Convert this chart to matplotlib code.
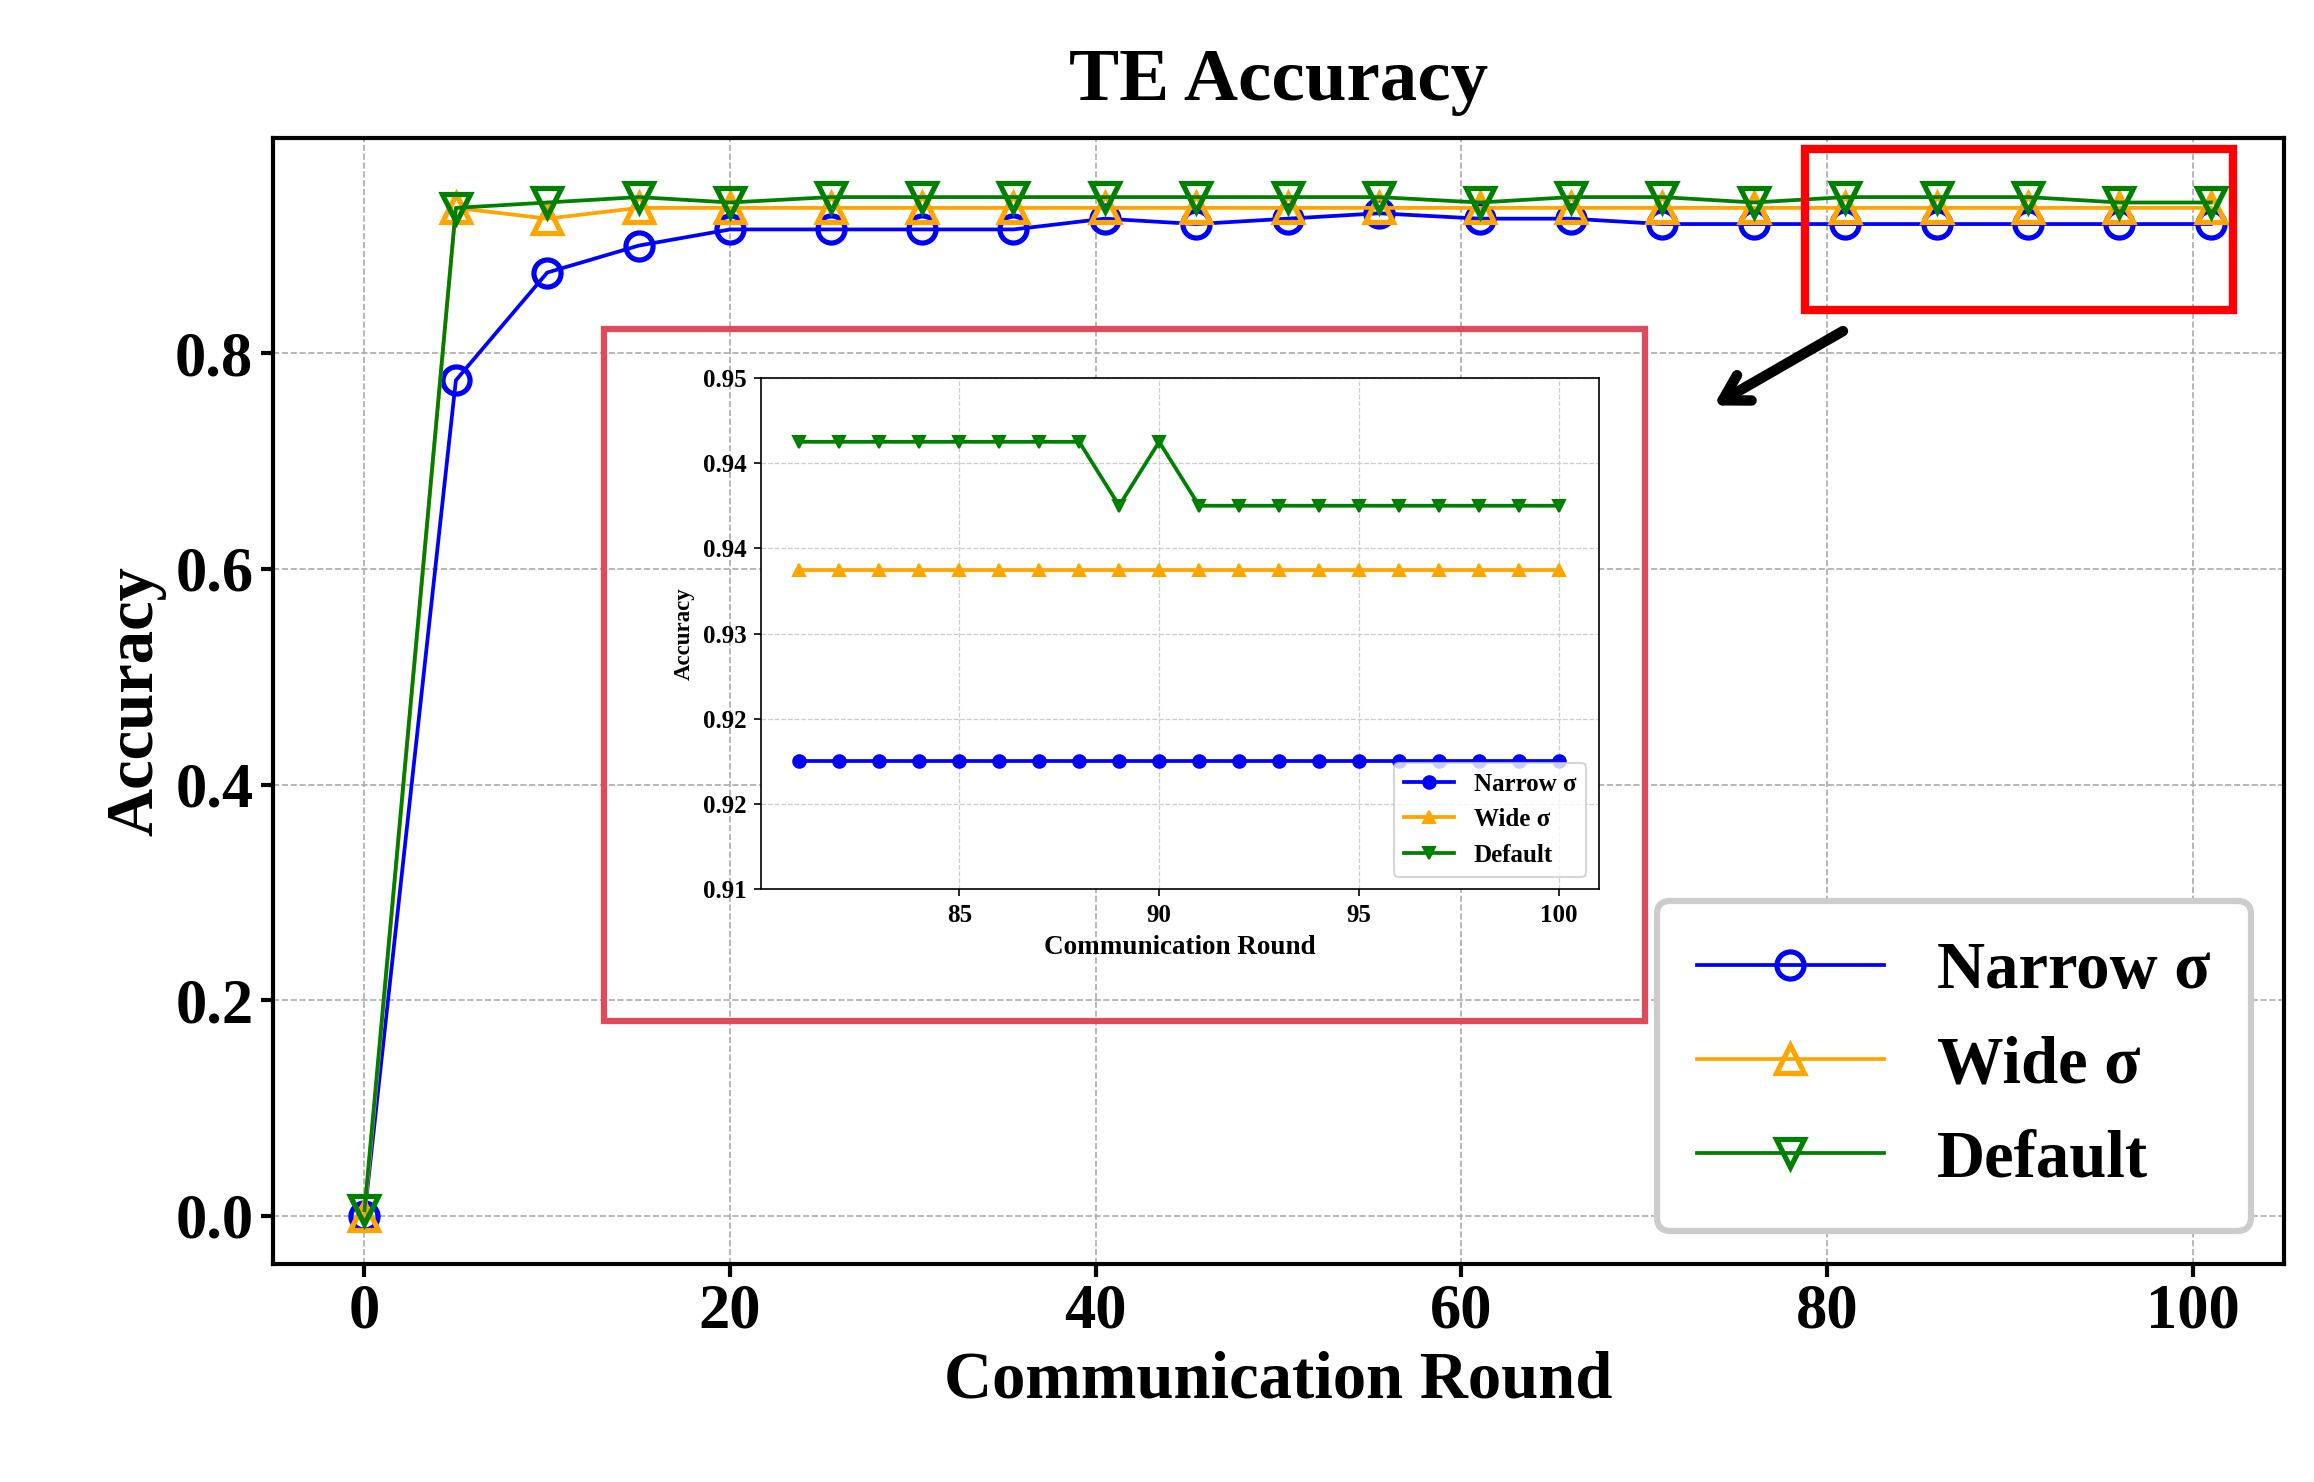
import matplotlib.pyplot as plt
from matplotlib.patches import Rectangle, FancyArrowPatch
from matplotlib.ticker import FormatStrFormatter

plt.rcParams['font.family'] = ['Liberation Serif', 'DejaVu Serif']
plt.rcParams['font.weight'] = 'bold'
plt.rcParams['axes.labelweight'] = 'bold'

# main chart data
rounds = [0, 5, 10, 15, 20, 25.5, 30.5, 35.5, 40.5, 45.5, 50.5, 55.5, 61, 66, 71, 76, 81, 86, 91, 96, 101]
narrow = [0.0, 0.775, 0.875, 0.90, 0.915, 0.915, 0.915, 0.915, 0.925, 0.92, 0.925, 0.93, 0.925, 0.925,
          0.92, 0.92, 0.92, 0.92, 0.92, 0.92, 0.92]
wide = [0.0, 0.935, 0.925, 0.935, 0.935, 0.935, 0.935, 0.935, 0.935, 0.935, 0.935, 0.935, 0.935, 0.935,
        0.935, 0.935, 0.935, 0.935, 0.935, 0.935, 0.935]
default = [0.005, 0.935, 0.94, 0.945, 0.94, 0.945, 0.945, 0.945, 0.945, 0.945, 0.945, 0.945, 0.94, 0.945,
           0.945, 0.94, 0.945, 0.945, 0.945, 0.94, 0.94]

# zoomed data (rounds 81-100)
zoom_rounds = list(range(81, 101))
zoom_narrow = [0.920] * 20
zoom_wide = [0.935] * 20
zoom_default = [0.945] * 8 + [0.940, 0.945] + [0.940] * 10

fig = plt.figure(figsize=(2314 / 150, 1482 / 150), dpi=150)
ax = fig.add_axes([0.118, 0.147, 0.869, 0.76])
ax.plot(rounds, narrow, color='blue', marker='o', ms=13, mfc='none', mew=2.5, lw=1.8, label='Narrow σ')
ax.plot(rounds, wide, color='orange', marker='^', ms=13, mfc='none', mew=2.5, lw=1.8, label='Wide σ')
ax.plot(rounds, default, color='green', marker='v', ms=13, mfc='none', mew=2.5, lw=1.8, label='Default')
ax.set_xlim(-5, 105)
ax.set_ylim(-0.045, 1.0)
ax.set_yticks([0.0, 0.2, 0.4, 0.6, 0.8])
ax.grid(True, linestyle='--', color='#aaaaaa', lw=0.8)
ax.tick_params(labelsize=30, width=2, length=6)
for s in ax.spines.values():
    s.set_linewidth(2)
ax.set_xlabel('Communication Round', fontsize=32)
ax.set_ylabel('Accuracy', fontsize=32)
ax.set_title('TE Accuracy', fontsize=36, fontweight='bold', pad=18)
leg = ax.legend(loc='lower right', fontsize=32, handlelength=2.8, borderpad=0.6, labelspacing=0.5,
                framealpha=1, edgecolor='#cccccc', fancybox=True)
leg.get_frame().set_linewidth(3)
ax.add_patch(Rectangle((78.8, 0.84), 23.4, 0.15, fill=False, edgecolor='red', lw=4, zorder=5))

# inset frame and arrow
fig.add_artist(Rectangle((0.261, 0.311), 0.450, 0.467, transform=fig.transFigure, fill=False,
                         edgecolor='#e04a5a', lw=3))
fig.add_artist(FancyArrowPatch((0.798, 0.778), (0.739, 0.725), transform=fig.transFigure,
                               arrowstyle='->,head_length=12,head_width=7', color='black', lw=5))

ins = fig.add_axes([0.329, 0.40, 0.362, 0.345])
ins.plot(zoom_rounds, zoom_narrow, color='blue', marker='o', ms=6, lw=1.8, label='Narrow σ')
ins.plot(zoom_rounds, zoom_wide, color='orange', marker='^', ms=6, lw=1.8, label='Wide σ')
ins.plot(zoom_rounds, zoom_default, color='green', marker='v', ms=6, lw=1.8, label='Default')
ins.set_xlim(80.05, 101.0)
ins.set_ylim(0.91, 0.95)
ins.set_yticks([0.91 + i * 0.04 / 6 for i in range(7)])
ins.yaxis.set_major_formatter(FormatStrFormatter('%.2f'))
ins.set_xticks([85, 90, 95, 100])
ins.grid(True, linestyle='--', color='#cccccc', lw=0.6)
ins.tick_params(labelsize=12)
ins.set_xlabel('Communication Round', fontsize=13)
ins.set_ylabel('Accuracy', fontsize=11)
ins.legend(loc='lower right', fontsize=12, framealpha=0.8)

fig.savefig('out.png', dpi=150)
